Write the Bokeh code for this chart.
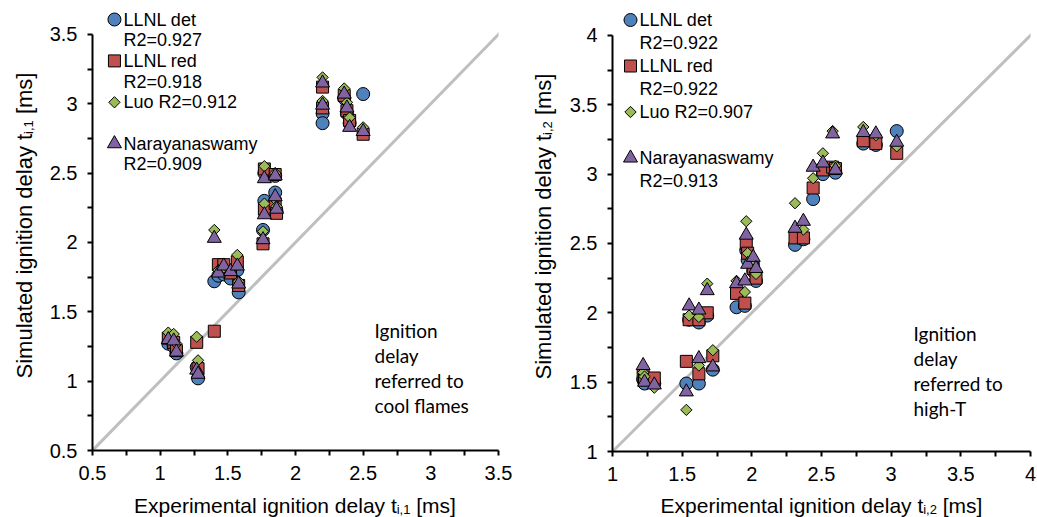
import math
from bokeh.plotting import figure
from bokeh.layouts import row, column
from bokeh.models import Range1d, FixedTicker, Label, Slope
from bokeh.embed import file_html
from bokeh.resources import INLINE

# ---------------- data: left panel (cool flames, t_i,1) ----------------
exp1 = [1.06, 1.10, 1.12, 1.27, 1.28, 1.40, 1.43, 1.47, 1.52, 1.57, 1.58, 1.76,
        1.77, 1.77, 1.85, 1.85, 1.86, 2.20, 2.20, 2.36, 2.38, 2.40, 2.50]
det1 = [1.27, 1.25, 1.20, 1.10, 1.02, 1.72, 1.76, 1.77, 1.74, 1.80, 1.64, 2.09,
        2.30, 2.50, 2.48, 2.36, 2.22, 2.93, 2.86, 3.04, 2.93, 2.86, 3.07]
red1 = [1.31, 1.28, 1.22, 1.28, 1.09, 1.36, 1.84, 1.84, 1.78, 1.86, 1.69, 1.99,
        2.24, 2.53, 2.49, 2.28, 2.21, 3.12, 2.97, 3.06, 2.95, 2.88, 2.78]
luo1 = [1.35, 1.34, 1.27, 1.32, 1.15, 2.09, 1.80, 1.82, 1.80, 1.91, 1.72, 2.08,
        2.28, 2.55, 2.50, 2.31, 2.26, 3.19, 3.02, 3.11, 3.01, 2.90, 2.83]
nar1 = [1.30, 1.29, 1.21, 1.08, 1.05, 2.03, 1.78, 1.83, 1.79, 1.83, 1.70, 2.02,
        2.20, 2.46, 2.48, 2.33, 2.24, 3.15, 2.99, 3.07, 2.97, 2.83, 2.80]
r2_1 = ["0.927", "0.918", "0.912", "0.909"]

# ---------------- data: right panel (high-T, t_i,2) ----------------
exp2 = [1.22, 1.23, 1.30, 1.53, 1.55, 1.62, 1.62, 1.68, 1.72, 1.89, 1.95, 1.96,
        1.97, 2.01, 2.03, 2.31, 2.37, 2.44, 2.51, 2.58, 2.60, 2.80, 2.89, 3.04]
det2 = [1.52, 1.49, 1.49, 1.49, 1.95, 1.49, 1.93, 1.98, 1.59, 2.04, 2.05, 2.45,
        2.38, 2.30, 2.23, 2.49, 2.53, 2.82, 3.00, 3.03, 3.01, 3.22, 3.21, 3.31]
red2 = [1.55, 1.52, 1.53, 1.65, 1.95, 1.56, 1.95, 2.00, 1.69, 2.14, 2.07, 2.50,
        2.43, 2.32, 2.25, 2.54, 2.54, 2.90, 3.03, 3.05, 3.04, 3.24, 3.22, 3.15]
luo2 = [1.57, 1.54, 1.46, 1.30, 1.98, 1.62, 1.97, 2.21, 1.73, 2.23, 2.15, 2.66,
        2.43, 2.36, 2.28, 2.79, 2.60, 2.97, 3.15, 3.31, 3.06, 3.34, 3.28, 3.20]
nar2 = [1.62, 1.50, 1.48, 1.43, 2.05, 1.67, 2.02, 2.16, 1.61, 2.21, 2.23, 2.56,
        2.35, 2.40, 2.32, 2.61, 2.66, 3.05, 3.08, 3.29, 3.03, 3.30, 3.29, 3.23]
r2_2 = ["0.922", "0.922", "0.907", "0.913"]

ticks1 = [0.5, 1, 1.5, 2, 2.5, 3, 3.5]
tick_labels1 = ["0.5", "1", "1.5", "2", "2.5", "3", "3.5"]
ticks2 = [1, 1.5, 2, 2.5, 3, 3.5, 4]
tick_labels2 = ["1", "1.5", "2", "2.5", "3", "3.5", "4"]

series_names = ["LLNL det", "LLNL red", "Luo", "Narayanaswamy"]
notes1 = ["Ignition", "delay", "referred to", "cool flames"]
notes2 = ["Ignition", "delay", "referred to", "high-T"]

FONT = "Liberation Sans"
COLORS = ["#4F81BD", "#C0504D", "#9BBB59", "#8064A2"]
MARKERS = ["circle", "square", "square", "triangle"]
SIZES = [13, 12, 8, 14]
ANGLES = [0, 0, math.pi / 4, 0]

W = {' ': 278, '[': 278, ']': 278, ',': 278, '.': 278, '1': 556, '2': 556,
     'E': 667, 'S': 667, 'a': 556, 'd': 556, 'e': 556, 'g': 556, 'i': 222,
     'l': 222, 'm': 833, 'n': 556, 'o': 556, 'p': 556, 'r': 333, 's': 500,
     't': 278, 'u': 556, 'x': 500, 'y': 500}


def tw(s, size):
    return sum(W.get(c, 556) for c in s) * size / 1000.0


def text_fig(width, height):
    f = figure(width=width, height=height, output_backend="svg", toolbar_location=None,
               x_axis_type=None, y_axis_type=None, min_border=0,
               x_range=Range1d(0, 1), y_range=Range1d(0, 1))
    f.outline_line_color = None
    f.grid.visible = False
    return f


def add_title(f, main, sub, tail, center, base, vertical, size=21, subsize=13, drop=4):
    w1 = tw(main, size)
    w2 = tw(sub, subsize)
    wsp = tw(" ", size)
    w3 = tw(tail, size)
    total = w1 + w2 + wsp + w3
    start = center - total / 2.0
    common = dict(x_units="screen", y_units="screen", text_font=FONT,
                  text_color="black", text_align="left", text_baseline="alphabetic")
    if not vertical:
        f.add_layout(Label(x=start, y=base, text=main, text_font_size=f"{size}px", **common))
        f.add_layout(Label(x=start + w1, y=base - drop, text=sub, text_font_size=f"{subsize}px", **common))
        f.add_layout(Label(x=start + w1 + w2 + wsp, y=base, text=tail, text_font_size=f"{size}px", **common))
    else:
        a = math.pi / 2
        f.add_layout(Label(x=base, y=start, angle=a, text=main, text_font_size=f"{size}px", **common))
        f.add_layout(Label(x=base + drop, y=start + w1, angle=a, text=sub, text_font_size=f"{subsize}px", **common))
        f.add_layout(Label(x=base, y=start + w1 + w2 + wsp, angle=a, text=tail, text_font_size=f"{size}px", **common))


def make_panel(width, height, left, right, bottom, rng, y_end, ticks, tlabels,
               exp, series, r2, notes, note_x, note_y0, leg_mx, leg_tx, leg_y0, leg_dy):
    p = figure(width=width, height=height, output_backend="svg", toolbar_location=None,
               x_range=Range1d(*rng), y_range=Range1d(rng[0], y_end),
               min_border_left=left, min_border_right=right,
               min_border_top=0, min_border_bottom=bottom)
    p.outline_line_color = None
    p.grid.visible = False
    p.background_fill_color = "white"
    p.border_fill_color = "white"
    fw = width - left - right
    fh = height - bottom
    p.extra_x_ranges = {"px": Range1d(0, fw)}
    p.extra_y_ranges = {"px": Range1d(0, fh)}
    minor = [t + 0.25 for t in ticks[:-1]]
    for ax in (p.xaxis[0], p.yaxis[0]):
        ax.ticker = FixedTicker(ticks=ticks, minor_ticks=minor)
        ax.bounds = rng
        ax.major_label_overrides = {t: l for t, l in zip(ticks, tlabels)}
        ax.axis_line_width = 2
        ax.axis_line_color = "black"
        ax.major_tick_line_width = 2
        ax.minor_tick_line_width = 2
        ax.major_tick_line_color = "black"
        ax.minor_tick_line_color = "black"
        ax.major_tick_in = 0
        ax.major_tick_out = 5
        ax.minor_tick_in = 0
        ax.minor_tick_out = 5
        ax.major_label_text_font = FONT
        ax.major_label_text_font_size = "20px"
        ax.major_label_text_color = "black"
        ax.major_label_standoff = 10

    p.add_layout(Slope(gradient=1, y_intercept=0, line_color="#BFBFBF", line_width=3,
                       level="underlay"))

    for vals, m, s, a, c in zip(series, MARKERS, SIZES, ANGLES, COLORS):
        p.scatter(exp, vals, marker=m, size=s, angle=a, fill_color=c,
                  line_color="black", line_width=1)

    # legend (rows: 0 det, 1 R2, 2 red, 3 R2, 4 Luo, 5 blank, 6 Nar, 7 R2)
    legend_rows = [
        (0, 0, series_names[0]), (None, 1, "R2=" + r2[0]),
        (1, 2, series_names[1]), (None, 3, "R2=" + r2[1]),
        (2, 4, series_names[2] + " R2=" + r2[2]),
        (3, 6, series_names[3]), (None, 7, "R2=" + r2[3]),
    ]
    for si, rowi, txt in legend_rows:
        yc = leg_y0 - rowi * leg_dy
        if si is not None:
            p.scatter([leg_mx], [yc], x_range_name="px", y_range_name="px",
                      marker=MARKERS[si], size=SIZES[si], angle=ANGLES[si],
                      fill_color=COLORS[si], line_color="black", line_width=1)
        p.add_layout(Label(x=leg_tx, y=yc, x_units="screen", y_units="screen", text=txt,
                           text_font=FONT, text_font_size="18px", text_color="black",
                           text_align="left", text_baseline="middle"))

    for i, line in enumerate(notes):
        p.add_layout(Label(x=note_x, y=note_y0 - 25 * i, x_units="screen", y_units="screen",
                           text=line, text_font="Lato", text_font_size="19px",
                           text_color="black", text_align="left", text_baseline="middle"))
    return p


# left block (x 0..520): y-title strip 46 px, plot 474 px (frame x 91..498, y 0..450)
p1 = make_panel(474, 490, 45, 22, 40, (0.5, 3.5), 0.5 + 450 / 138.7, ticks1, tick_labels1,
                exp1, [det1, red1, luo1, nar1], r2_1, notes1,
                282, 450 - 330, 22, 31, 450 - 19, 20.7)
# right block (x 520..1037): y-title strip 46 px, plot 471 px (frame x 612..1030, y 0..451)
p2 = make_panel(471, 490, 46, 7, 39, (1, 4), 1 + 451 / 138.7, ticks2, tick_labels2,
                exp2, [det2, red2, luo2, nar2], r2_2, notes2,
                301, 451 - 333, 18, 27, 451 - 19.5, 23)

yt1 = text_fig(46, 490)
add_title(yt1, "Simulated ignition delay t", "i,1", "[ms]", 225, 24, True, size=22)
yt2 = text_fig(46, 490)
add_title(yt2, "Simulated ignition delay t", "i,2", "[ms]", 225, 23, True, size=22)
xt1 = text_fig(520, 27)
add_title(xt1, "Experimental ignition delay t", "i,1", "[ms]", 294.5, 12, False)
xt2 = text_fig(517, 27)
add_title(xt2, "Experimental ignition delay t", "i,2", "[ms]", 301, 12, False)

left_block = column(row(yt1, p1, spacing=0), xt1, spacing=0)
right_block = column(row(yt2, p2, spacing=0), xt2, spacing=0)
layout = row(left_block, right_block, spacing=0)
open("out.html", "w").write(file_html(layout, INLINE))
